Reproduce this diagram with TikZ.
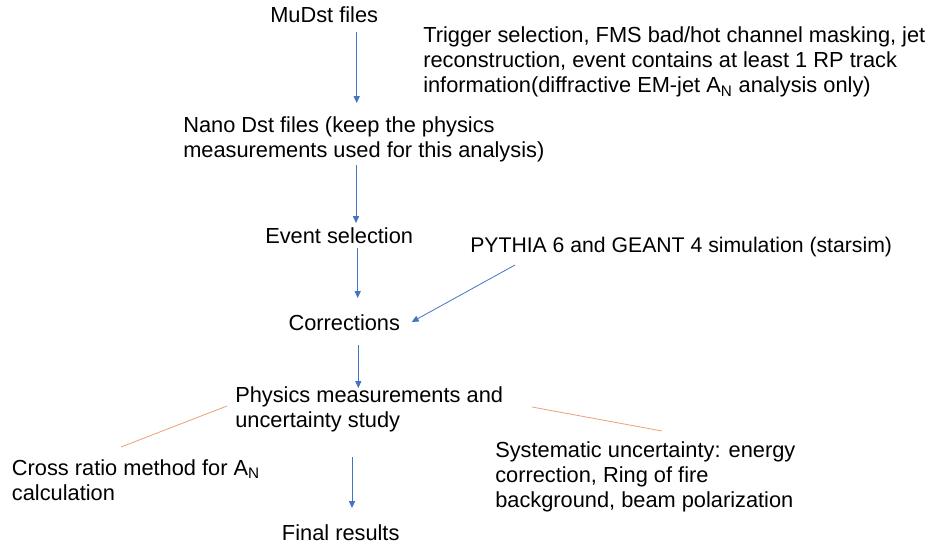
\documentclass[tikz,border=0pt]{standalone}
\usepackage{fontspec}
\setmainfont{Liberation Sans}
\usetikzlibrary{arrows.meta}
\definecolor{flowblue}{HTML}{4472C4}
\definecolor{linkorange}{HTML}{E9A07A}
\begin{document}
\begin{tikzpicture}[x=0.75pt,y=-0.75pt,
  lbl/.style={anchor=north west, inner sep=0pt, align=left, font=\fontsize{16.35}{19.1}\selectfont},
  flow/.style={draw=flowblue, line width=0.6pt, -{Triangle[length=5.2pt,width=4.6pt]}},
  link/.style={draw=linkorange, line width=0.6pt}]
\useasboundingbox (0,0) rectangle (930,548);
% texts
\node[lbl] (mudst) at (270,6.2) {MuDst files};
\node[lbl] (trig) at (423,26) {Trigger selection, FMS bad/hot channel masking, jet\\reconstruction, event contains at least 1 RP track\\information(diffractive EM-jet A\textsubscript{N} analysis only)};
\node[lbl] (nano) at (183,116) {Nano Dst files (keep the physics\\measurements used for this analysis)};
\node[lbl] (evsel) at (265,227.5) {Event selection};
\node[lbl,font=\fontsize{15.9}{19.1}\selectfont] (pythia) at (470,236.4) {PYTHIA 6 and GEANT 4 simulation (starsim)};
\node[lbl] (corr) at (288.3,314.2) {Corrections};
\node[lbl] (phys) at (235,386) {Physics measurements and\\uncertainty study};
\node[lbl] (syst) at (495,441) {Systematic uncertainty: energy\\correction, Ring of fire\\background, beam polarization};
\node[lbl] (cross) at (11.7,459.3) {Cross ratio method for A\textsubscript{N}\\calculation};
\node[lbl] (final) at (281.7,524.2) {Final results};
% connector ends
\coordinate (a1s) at (356.7,31.7);  \coordinate (a1e) at (356.7,103);
\coordinate (a2s) at (356,165);     \coordinate (a2e) at (356,223);
\coordinate (a3s) at (357.7,248.3); \coordinate (a3e) at (357.7,298);
\coordinate (a4s) at (515,265);     \coordinate (a4e) at (411.7,322);
\coordinate (a5s) at (358.3,345);   \coordinate (a5e) at (358.3,388);
\coordinate (a6s) at (352,457);     \coordinate (a6e) at (352,508);
\coordinate (l1s) at (121,447);     \coordinate (l1e) at (227,406);
\coordinate (l2s) at (532,407);     \coordinate (l2e) at (662,431);
% connectors
\draw[flow] (a1s) -- (a1e);
\draw[flow] (a2s) -- (a2e);
\draw[flow] (a3s) -- (a3e);
\draw[flow] (a4s) -- (a4e);
\draw[flow] (a5s) -- (a5e);
\draw[flow] (a6s) -- (a6e);
\draw[link] (l1s) -- (l1e);
\draw[link] (l2s) -- (l2e);
\end{tikzpicture}
\end{document}
